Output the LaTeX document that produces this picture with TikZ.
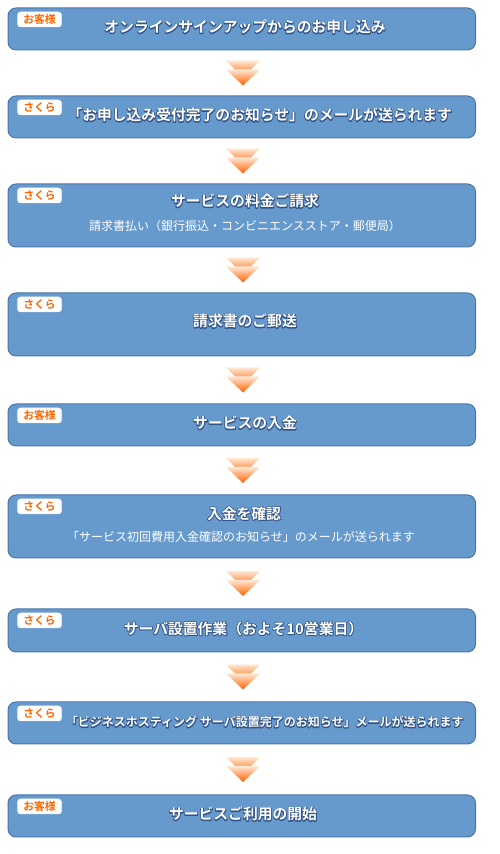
\documentclass[tikz,border=0pt]{standalone}
\usepackage{fontspec}
\newfontfamily\jp{Noto Sans CJK JP}[BoldFont={Noto Sans CJK JP Bold}]
\usetikzlibrary{calc}
\definecolor{boxfill}{RGB}{102,153,204}
\definecolor{boxline}{RGB}{74,117,168}
\definecolor{badgeor}{RGB}{255,102,0}
\definecolor{chevtop}{RGB}{255,232,212}
\definecolor{chevmid}{RGB}{255,128,40}
\definecolor{chevbot}{RGB}{255,98,0}
\newcommand\outl[1]{\rlap{\special{pdf:literal direct 1 Tr 1.6 w 1 j 0.20 0.33 0.53 RG}#1\special{pdf:literal direct 0 Tr}}#1}
\begin{document}
\begin{tikzpicture}[x=1pt,y=1pt,
  stepbox/.style={draw=boxline, line width=1pt, fill=boxfill, rounded corners=8pt, minimum width=467.5pt, inner sep=0pt},
  title/.style={text=white, font=\jp\bfseries\fontsize{14.8}{16}\selectfont, inner sep=0pt, text height=0.76em, text depth=0pt},
  smalltitle/.style={title, font=\jp\bfseries\fontsize{12}{14}\selectfont},
  sub/.style={text=white, font=\jp\fontsize{12}{14}\selectfont, inner sep=0pt, text height=0.76em, text depth=0pt},
  badge/.style={fill=white, draw=white!88!boxline, line width=0.5pt, rounded corners=3pt, minimum width=44pt, minimum height=15pt, inner sep=0pt, text=badgeor, font=\jp\bfseries\fontsize{10.8}{12}\selectfont, text height=0.76em, text depth=0pt},
  chev/.pic={
    \shade[top color=chevtop, middle color=chevmid, bottom color=chevbot] (-17,12.5) -- (17,12.5) -- (0,-4.5) -- cycle;
    \shade[top color=chevtop, middle color=chevmid, bottom color=chevbot] (-17,3.5) -- (17,3.5) -- (0,-12.5) -- cycle;
  }
]
\useasboundingbox (0,0) rectangle (500,854);

% boxes
\node[stepbox, minimum height=42pt] (b1) at (241.75,825) {};
\node[stepbox, minimum height=42pt] (b2) at (241.75,737) {};
\node[stepbox, minimum height=63pt] (b3) at (241.75,638.5) {};
\node[stepbox, minimum height=63pt] (b4) at (241.75,529.5) {};
\node[stepbox, minimum height=42pt] (b5) at (241.75,429) {};
\node[stepbox, minimum height=63pt] (b6) at (241.75,327.5) {};
\node[stepbox, minimum height=43pt] (b7) at (241.75,223.5) {};
\node[stepbox, minimum height=42pt] (b8) at (241.75,131) {};
\node[stepbox, minimum height=42pt] (b9) at (241.75,38) {};

% badges
\node[badge] (g1) at ([xshift=32pt,yshift=-12pt]b1.north west) {お客様};
\node[badge] (g2) at ([xshift=32pt,yshift=-12pt]b2.north west) {さくら};
\node[badge] (g3) at ([xshift=32pt,yshift=-12pt]b3.north west) {さくら};
\node[badge] (g4) at ([xshift=32pt,yshift=-12pt]b4.north west) {さくら};
\node[badge] (g5) at ([xshift=32pt,yshift=-12pt]b5.north west) {お客様};
\node[badge] (g6) at ([xshift=32pt,yshift=-12pt]b6.north west) {さくら};
\node[badge] (g7) at ([xshift=32pt,yshift=-12pt]b7.north west) {さくら};
\node[badge] (g8) at ([xshift=32pt,yshift=-12pt]b8.north west) {さくら};
\node[badge] (g9) at ([xshift=32pt,yshift=-12pt]b9.north west) {お客様};

% texts
\node[title] (t1) at ([xshift=3.25pt]b1.center) {\outl{オンラインサインアップからのお申し込み}};
\node[title] (t2) at ([xshift=18pt]b2.center) {\outl{「お申し込み受付完了のお知らせ」のメールが送られます}};
\node[title] (t3) at ([xshift=3.25pt,yshift=12.5pt]b3.center) {\outl{サービスの料金ご請求}};
\node[sub] (s3) at ([xshift=3.25pt,yshift=-11.5pt]b3.center) {請求書払い（銀行振込・コンビニエンスストア・郵便局）};
\node[title] (t4) at ([xshift=3.25pt,yshift=1.5pt]b4.center) {\outl{請求書のご郵送}};
\node[title] (t5) at ([xshift=3.25pt]b5.center) {\outl{サービスの入金}};
\node[title] (t6) at ([xshift=2.25pt,yshift=11pt]b6.center) {\outl{入金を確認}};
\node[sub] (s6) at ([xshift=-0.75pt,yshift=-11pt]b6.center) {「サービス初回費用入金確認のお知らせ」のメールが送られます};
\node[title] (t7) at ([xshift=1.75pt]b7.center) {\outl{サーバ設置作業（およそ10営業日）}};
\node[smalltitle] (t8) at ([xshift=23pt]b8.center) {\outl{「ビジネスホスティング サーバ設置完了のお知らせ」メールが送られます}};
\node[title] (t9) at ([xshift=1.25pt]b9.center) {\outl{サービスご利用の開始}};

% chevrons between steps
\foreach \a/\b in {b1/b2,b2/b3,b3/b4,b4/b5,b5/b6,b6/b7,b7/b8,b8/b9}{
  \coordinate (m-\a) at ($(\a.south)!0.5!(\b.north)+(1.25,0)$);
  \pic at (m-\a) {chev};
}
\end{tikzpicture}
\end{document}
